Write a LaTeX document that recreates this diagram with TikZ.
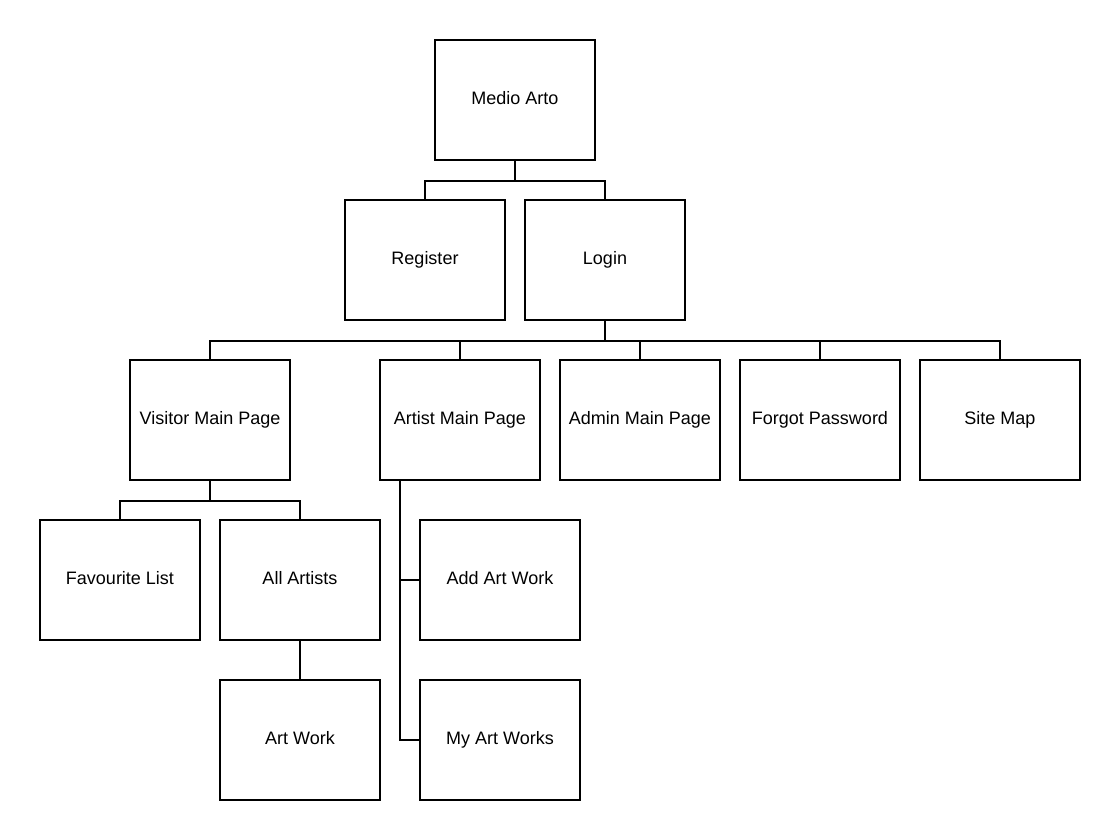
\documentclass[tikz,border=0pt]{standalone}
\usepackage{fontspec}
\setmainfont{Liberation Sans}
\newcommand{\boxlbl}[1]{\raisebox{2.5pt}{#1}}
\begin{document}
\begin{tikzpicture}[x=1pt,y=-1pt,
  box/.style={draw=black,line width=2pt,fill=white,minimum width=160pt,minimum height=120pt,inner sep=0pt,text height=15.5pt,text depth=1.3pt,font=\fontsize{18}{21}\selectfont},
  link/.style={draw=black,line width=2pt}]
\useasboundingbox[fill=white] (0,0) rectangle (1120,840);
\node[box] (medio) at (515,100) {\boxlbl{Medio Arto}};
\node[box] (register) at (425,260) {\boxlbl{Register}};
\node[box] (login) at (605,260) {\boxlbl{Login}};
\node[box] (visitor) at (210,420) {\boxlbl{Visitor Main Page}};
\node[box] (artist) at (460,420) {\boxlbl{Artist Main Page}};
\node[box] (admin) at (640,420) {\boxlbl{Admin Main Page}};
\node[box] (forgot) at (820,420) {\boxlbl{Forgot Password}};
\node[box] (sitemap) at (1000,420) {\boxlbl{Site Map}};
\node[box] (fav) at (120,580) {\boxlbl{Favourite List}};
\node[box] (allartists) at (300,580) {\boxlbl{All Artists}};
\node[box] (artwork) at (300,740) {\boxlbl{Art Work}};
\node[box] (addart) at (500,580) {\boxlbl{Add Art Work}};
\node[box] (myart) at (500,740) {\boxlbl{My Art Works}};
\draw[link] (medio.south) -- ++(0,20) -| (register.north);
\draw[link] (medio.south) -- ++(0,20) -| (login.north);
\foreach \n in {visitor,artist,admin,forgot,sitemap}
  \draw[link] (login.south) -- ++(0,20) -| (\n.north);
\draw[link] (visitor.south) -- ++(0,20) -| (fav.north);
\draw[link] (visitor.south) -- ++(0,20) -| (allartists.north);
\draw[link] (allartists.south) -- (artwork.north);
\draw[link] ([xshift=-60pt]artist.south) |- (addart.west);
\draw[link] ([xshift=-60pt]artist.south) |- (myart.west);
\end{tikzpicture}
\end{document}
